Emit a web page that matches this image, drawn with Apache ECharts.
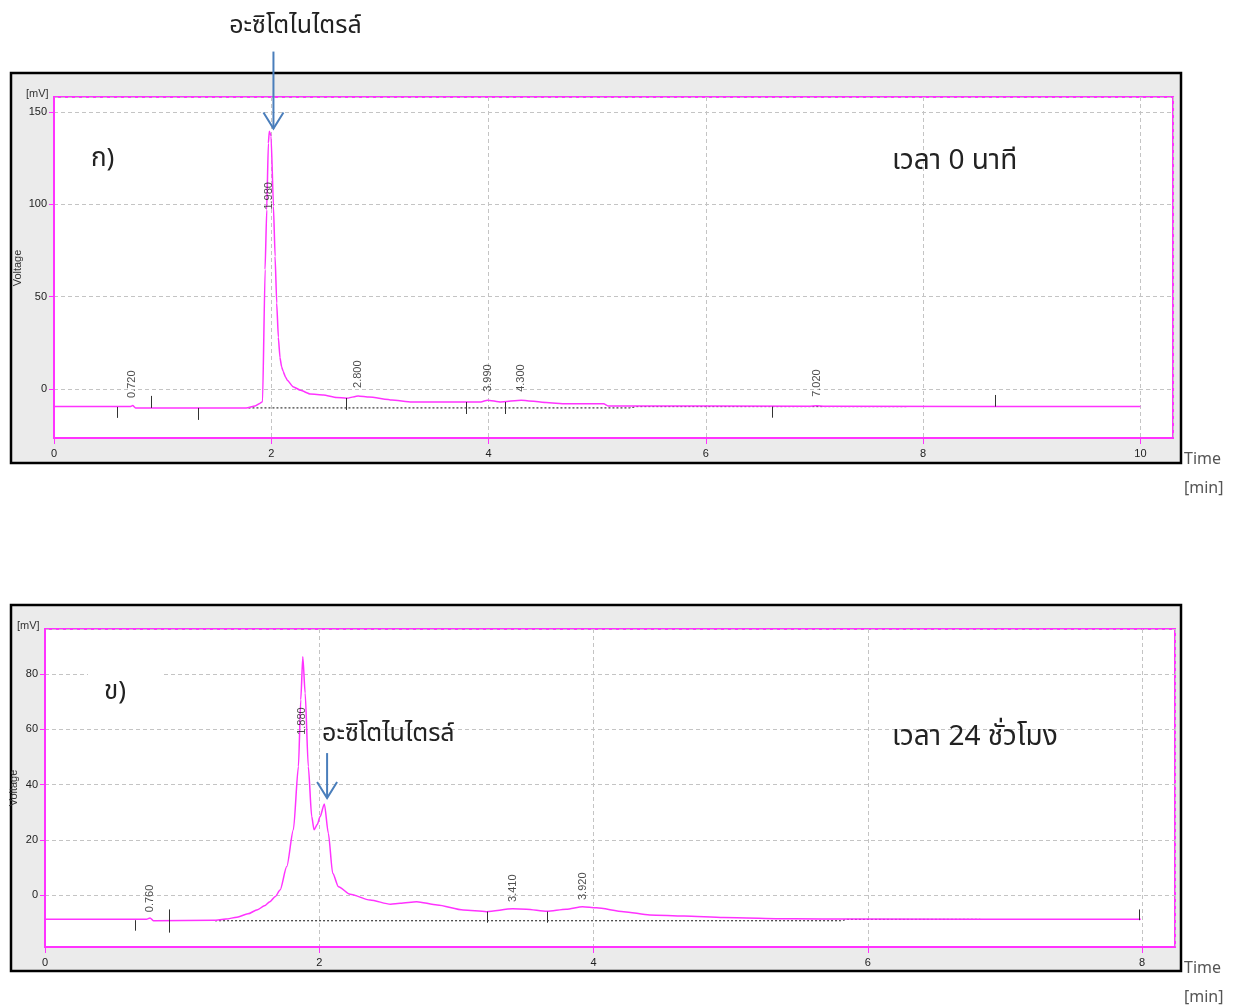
<!DOCTYPE html>
<html>
<head>
<meta charset="utf-8">
<script src="https://cdn.jsdelivr.net/npm/echarts@6/dist/echarts.min.js"></script>
<style>
html,body{margin:0;padding:0;background:#fff;}
#main{width:1237px;height:1007px;}
</style>
</head>
<body>
<div id="main"></div>
<script>
// ---------------- DATA ----------------
// Chromatogram A (time 0 min)
const topTime = [0, 0.70, 0.725, 0.75, 1.77, 1.85, 1.89, 1.92, 1.943, 1.958, 1.973, 1.982, 1.998, 2.02, 2.035, 2.05, 2.065, 2.08, 2.095, 2.11, 2.13, 2.15, 2.20, 2.27, 2.36, 2.48, 2.60, 2.69, 2.80, 2.90, 3.11, 3.29, 3.93, 3.99, 4.11, 4.30, 4.53, 4.71, 5.06, 5.10, 6.95, 7.02, 7.09, 10.0];
const topSignal = [-9.6, -9.6, -9.0, -10.3, -10.3, -9.3, -8.0, -6.9, 64.6, 97, 133, 139.6, 137, 98.9, 71.8, 46.5, 28, 17, 12, 9.4, 6.5, 4.5, 1.2, -0.8, -2.8, -3.3, -4.6, -5.1, -3.8, -4.4, -6.0, -7.1, -7.1, -6.1, -7.1, -6.1, -7.4, -8.1, -8.1, -9.2, -9.4, -9.1, -9.4, -9.6];
const topPeakTimes = [0.72, 1.98, 2.80, 3.99, 4.30, 7.02];
const topPeakLabels = ['0.720', '1.980', '2.800', '3.990', '4.300', '7.020'];
const topPeakLabelY = [-4.9, 97.1, 0.5, -1.6, -1.6, -4.3];
const topMarkTimes = [0.58, 0.89, 1.33, 2.69, 3.79, 4.15, 6.61, 8.66];
const topMarkLow = [-15.7, -10.3, -16.8, -11.4, -13.6, -13.6, -15.6, -9.6];
const topMarkHigh = [-9.8, -3.8, -10.3, -4.9, -7.1, -7.1, -9.6, -3.3];
const topBaseTime = [1.79, 5.30, 5.36, 7.85];
const topBaseVal = [-10.3, -10.3, -9.6, -9.6];

// Chromatogram B (time 24 h)
const botTime = [0, 0.74, 0.766, 0.79, 0.80, 1.23, 1.32, 1.40, 1.48, 1.55, 1.60, 1.64, 1.68, 1.714, 1.763, 1.811, 1.848, 1.865, 1.880, 1.897, 1.92, 1.945, 1.962, 1.985, 2.006, 2.037, 2.066, 2.098, 2.14, 2.225, 2.37, 2.52, 2.59, 2.71, 2.86, 3.05, 3.22, 3.41, 3.51, 3.66, 3.80, 3.92, 4.02, 4.22, 4.41, 4.66, 4.95, 5.46, 5.87, 7.99];
const botSignal = [-8.8, -8.8, -8.3, -9.3, -9.3, -9.1, -8.7, -8.0, -6.8, -5.3, -3.9, -2.4, -0.5, 1.8, 10.3, 23.6, 46.5, 70.7, 86.3, 73.1, 46.5, 28.4, 23.6, 25.5, 28.4, 33.0, 22.4, 7.9, 3.0, 0.3, -1.8, -3.3, -3.0, -2.4, -3.6, -5.4, -6.0, -5.0, -5.1, -5.9, -5.1, -4.2, -4.6, -6.0, -7.2, -7.6, -8.1, -8.6, -8.7, -8.8];
const botPeakTimes = [0.766, 1.875, 3.41, 3.92];
const botPeakLabels = ['0.760', '1.880', '3.410', '3.920'];
const botPeakLabelY = [-6.2, 58.0, -2.5, -1.8];
const botMarkTimes = [0.656, 0.907, 3.22, 3.66, 7.975];
const botMarkLow = [-12.9, -13.6, -10.0, -10.0, -9.1];
const botMarkHigh = [-9.1, -5.2, -6.0, -6.0, -5.2];
const botBaseTime = [1.24, 5.80, 5.85, 6.82];
const botBaseVal = [-9.3, -9.3, -8.8, -8.8];

// Texts
const compoundName = 'อะซิโตไนไตรล์';
const panelLabels = ['ก)', 'ข)'];
const timeLabels = ['เวลา 0 นาที', 'เวลา 24 ชั่วโมง'];
const arrowTargets = [[2.02, 141], [2.057, 35.1]];

// ---------------- BUILD ----------------
const MAG = '#ff33ff';
const thaiFont = '"Noto Sans Thai", "Noto Sans Thai UI", Tahoma, "Noto Sans", sans-serif';
const arial = 'Arial, "Liberation Sans", sans-serif';
const zip = (a, b) => a.map((v, i) => [v, b[i]]);

function xAxisCfg(gi, max) {
  return {
    gridIndex: gi, type: 'value', min: 0, max: max, interval: 2,
    axisLine: {show: true, onZero: false, lineStyle: {color: MAG, width: 2}},
    axisTick: {show: true, length: 6, lineStyle: {color: MAG, width: 1}},
    axisLabel: {color: '#222', fontSize: 11, fontFamily: arial, margin: 10, showMaxLabel: false},
    splitLine: {show: true, lineStyle: {color: '#c4c4c4', type: [4, 3], width: 1}}
  };
}
function yAxisCfg(gi, min, max, step) {
  return {
    gridIndex: gi, type: 'value', min: min, max: max, minInterval: step, maxInterval: step, splitNumber: 5,
    axisLine: {show: true, onZero: false, lineStyle: {color: MAG, width: 2}},
    axisTick: {show: true, length: 5, lineStyle: {color: MAG, width: 1}},
    axisLabel: {color: '#222', fontSize: 11, fontFamily: arial, margin: 7, showMinLabel: false, showMaxLabel: false},
    splitLine: {show: true, lineStyle: {color: '#c4c4c4', type: [4, 3], width: 1}}
  };
}
function markRender(params, api) {
  const p1 = api.coord([api.value(0), api.value(1)]);
  const p2 = api.coord([api.value(0), api.value(2)]);
  return {type: 'line', shape: {x1: Math.round(p1[0]) + 0.5, y1: p1[1], x2: Math.round(p2[0]) + 0.5, y2: p2[1]},
          style: {stroke: '#333', lineWidth: 1}};
}
function seriesFor(idx, t, v, pT, pL, pY, mT, mLo, mHi, bT, bV, smooth) {
  return [
    {type: 'line', xAxisIndex: idx, yAxisIndex: idx, data: zip(bT, bV), showSymbol: false, symbol: 'none',
     lineStyle: {color: '#111', width: 1, type: [2, 2]}, z: 2, silent: true},
    {type: 'line', xAxisIndex: idx, yAxisIndex: idx, data: zip(t, v), showSymbol: false, symbol: 'none',
     smooth: smooth, smoothMonotone: 'x',
     lineStyle: {color: MAG, width: 1.5}, z: 3, silent: true},
    {type: 'custom', xAxisIndex: idx, yAxisIndex: idx, renderItem: markRender,
     data: mT.map((x, i) => [x, mLo[i], mHi[i]]), encode: {x: 0, y: [1, 2]}, z: 4, silent: true},
    {type: 'scatter', xAxisIndex: idx, yAxisIndex: idx, symbolSize: 0,
     data: pT.map((x, i) => [x, pY[i], pL[i]]), z: 5, silent: true,
     label: {show: true, position: 'inside', rotate: 90, align: 'left', verticalAlign: 'middle',
             formatter: p => p.value[2], color: '#222', fontSize: 11, fontFamily: arial}}
  ];
}

const chart = echarts.init(document.getElementById('main'), null, {renderer: 'canvas'});
chart.setOption({
  animation: false,
  backgroundColor: '#ffffff',
  grid: [
    {left: 54, top: 97, width: 1119, height: 341, show: true, backgroundColor: '#ffffff', borderColor: MAG, borderWidth: 2},
    {left: 45, top: 629, width: 1130, height: 318, show: true, backgroundColor: '#ffffff', borderColor: MAG, borderWidth: 2}
  ],
  xAxis: [xAxisCfg(0, 10.3), xAxisCfg(1, 8.24)],
  yAxis: [yAxisCfg(0, -26.6, 158.1, 50), yAxisCfg(1, -18.8, 96.3, 20)],
  series: [].concat(
    seriesFor(0, topTime, topSignal, topPeakTimes, topPeakLabels, topPeakLabelY, topMarkTimes, topMarkLow, topMarkHigh, topBaseTime, topBaseVal, 0.15),
    seriesFor(1, botTime, botSignal, botPeakTimes, botPeakLabels, botPeakLabelY, botMarkTimes, botMarkLow, botMarkHigh, botBaseTime, botBaseVal, 0.25)
  )
});

// Annotations (arrows anchored at the annotated peaks)
const tip0 = chart.convertToPixel({gridIndex: 0}, arrowTargets[0]);
const tip1 = chart.convertToPixel({gridIndex: 1}, arrowTargets[1]);
const ARROW = '#4a7ebb';
function arrow(tip, len) {
  const x = tip[0], y = tip[1];
  return [
    {type: 'line', shape: {x1: x, y1: y - len, x2: x, y2: y}, style: {stroke: ARROW, lineWidth: 2}, z: 50},
    {type: 'polyline', shape: {points: [[x - 10, y - 16], [x, y], [x + 10, y - 16]]}, style: {stroke: ARROW, lineWidth: 2, fill: null}, z: 50}
  ];
}
const txt = (x, y, s, size, extra) => Object.assign({type: 'text', x: x, y: y, z: 60,
  style: Object.assign({text: s, fill: '#222', font: size + 'px ' + thaiFont, textAlign: 'left', textVerticalAlign: 'middle'}, extra || {})});
const small = (x, y, s, extra) => Object.assign({type: 'text', x: x, y: y, z: 60,
  style: Object.assign({text: s, fill: '#333', font: '11px ' + arial, textAlign: 'left', textVerticalAlign: 'middle'}, extra || {})});

chart.setOption({
  graphic: [
    {type: 'rect', shape: {x: 11, y: 73, width: 1170, height: 390}, style: {fill: '#ebebeb', stroke: '#000', lineWidth: 2.5}, z: -100},
    {type: 'rect', shape: {x: 11, y: 605, width: 1170, height: 366}, style: {fill: '#ebebeb', stroke: '#000', lineWidth: 2.5}, z: -100},
    {type: 'rect', shape: {x: 88, y: 664, width: 75, height: 52}, style: {fill: '#ffffff'}, z: 40},
    txt(tip0[0] + 22, 28, compoundName, 25, {textAlign: 'center'}),
    txt(tip1[0] - 5, 736, compoundName, 25),
    txt(91, 161, panelLabels[0], 26),
    txt(104, 694, panelLabels[1], 26),
    txt(892, 163, timeLabels[0], 28),
    txt(892, 739, timeLabels[1], 28),
    small(26, 94, '[mV]'),
    small(17, 626, '[mV]'),
    {type: 'text', x: 18, y: 268, rotation: Math.PI / 2, z: 60,
     style: {text: 'Voltage', fill: '#333', font: '11px ' + arial, textAlign: 'center', textVerticalAlign: 'middle'}},
    {type: 'text', x: 14, y: 788, rotation: Math.PI / 2, z: 60,
     style: {text: 'Voltage', fill: '#333', font: '11px ' + arial, textAlign: 'center', textVerticalAlign: 'middle'}},
    txt(1184, 461, 'Time', 16, {fill: '#555'}),
    txt(1184, 490, '[min]', 16, {fill: '#555'}),
    txt(1184, 970, 'Time', 16, {fill: '#555'}),
    txt(1184, 999, '[min]', 16, {fill: '#555'})
  ].concat(arrow(tip0, 77), arrow(tip1, 45))
});
</script>
</body>
</html>
